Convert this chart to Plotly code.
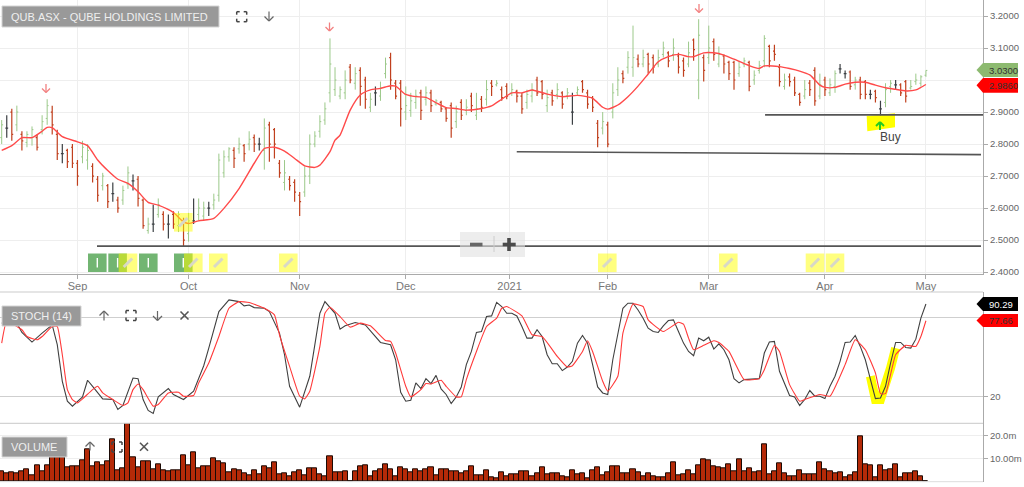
import plotly.graph_objects as go

title_text = "QUB.ASX - QUBE HOLDINGS LIMITED"
month_ticks = [15, 37, 59, 80, 100.55, 120, 140, 163, 183]
month_labels = ["Sep", "Oct", "Nov", "Dec", "2021", "Feb", "Mar", "Apr", "May"]
price_ticks = [2.4, 2.5, 2.6, 2.7, 2.8, 2.9, 3.0, 3.1, 3.2]
price_labels = ["2.4000", "2.5000", "2.6000", "2.7000", "2.8000", "2.9000", "", "3.1000", "3.2000"]

highs = [2.875,2.89,2.91,2.92,2.84,2.84,2.855,2.83,2.89,2.94,
2.92,2.845,2.80,2.785,2.80,2.75,2.81,2.80,2.74,2.70,
2.71,2.675,2.68,2.635,2.67,2.73,2.705,2.70,2.63,2.57,
2.61,2.63,2.59,2.58,2.59,2.59,2.57,2.585,2.63,2.63,
2.62,2.62,2.645,2.77,2.78,2.79,2.79,2.82,2.80,2.84,
2.83,2.82,2.88,2.87,2.85,2.75,2.75,2.70,2.69,2.65,
2.73,2.83,2.84,2.89,2.93,3.13,3.04,2.98,3.03,3.05,
3.04,3.04,3.01,2.96,2.98,2.995,3.07,3.085,3.00,3.00,
2.98,2.96,2.97,2.97,2.98,2.97,2.94,2.935,2.915,2.93,
2.92,2.94,2.94,2.96,2.96,2.95,3.00,3.00,3.00,2.98,
2.99,2.99,2.97,2.96,2.97,2.99,3.01,3.00,2.97,2.97,
2.99,2.965,2.975,2.96,2.98,3.00,2.97,2.95,2.875,2.90,
2.87,2.99,3.04,3.03,3.09,3.17,3.08,3.095,3.085,3.08,
3.095,3.12,3.09,3.13,3.085,3.07,3.12,3.13,3.19,3.08,
3.17,3.13,3.105,3.08,3.06,3.06,3.06,3.07,3.06,3.03,
3.06,3.14,3.11,3.11,3.05,3.02,3.02,3.01,2.96,3.00,
3.00,3.04,3.02,3.01,3.005,3.03,3.05,3.03,3.03,3.01,
3.01,3.00,2.97,2.97,2.935,2.99,3.00,3.00,2.99,3.00,
3.00,3.02,3.015,3.03]

lows = [2.80,2.82,2.81,2.84,2.78,2.79,2.795,2.78,2.83,2.86,
2.83,2.75,2.74,2.725,2.725,2.67,2.74,2.72,2.68,2.62,
2.655,2.60,2.62,2.585,2.61,2.66,2.655,2.605,2.535,2.52,
2.525,2.57,2.53,2.505,2.535,2.525,2.48,2.495,2.55,2.56,
2.56,2.575,2.595,2.62,2.695,2.745,2.725,2.77,2.745,2.78,
2.775,2.78,2.72,2.745,2.755,2.695,2.655,2.655,2.62,2.575,
2.635,2.675,2.79,2.82,2.86,2.93,2.95,2.94,2.94,2.99,
2.97,2.92,2.91,2.90,2.92,2.935,3.005,2.97,2.94,2.855,
2.875,2.885,2.91,2.875,2.92,2.90,2.92,2.90,2.87,2.82,
2.85,2.875,2.89,2.90,2.875,2.90,2.92,2.95,2.98,2.935,
2.94,2.95,2.93,2.895,2.91,2.93,2.95,2.94,2.90,2.92,
2.94,2.91,2.94,2.86,2.95,2.96,2.91,2.90,2.79,2.83,
2.79,2.88,2.95,2.99,3.02,3.01,3.04,3.04,3.02,3.02,
3.04,3.07,3.04,3.06,3.02,3.01,3.04,3.06,2.94,2.995,
3.05,3.06,3.04,3.02,3.00,2.97,3.01,3.04,2.965,2.985,
3.02,3.04,3.04,3.06,2.98,2.97,2.98,2.95,2.92,2.94,
2.95,2.92,2.94,2.95,2.95,2.96,3.02,3.005,2.97,2.97,
2.94,2.94,2.94,2.93,2.89,2.915,2.96,2.97,2.95,2.93,
2.97,2.985,2.98,3.01]

opens = [2.82,2.85,2.90,2.86,2.83,2.805,2.82,2.82,2.845,2.88,
2.90,2.83,2.77,2.78,2.79,2.74,2.76,2.75,2.73,2.69,
2.67,2.67,2.645,2.625,2.625,2.675,2.685,2.69,2.625,2.53,
2.55,2.58,2.58,2.55,2.58,2.545,2.56,2.52,2.56,2.58,
2.575,2.60,2.61,2.64,2.71,2.76,2.78,2.785,2.795,2.80,
2.82,2.80,2.78,2.86,2.845,2.74,2.68,2.69,2.68,2.64,
2.65,2.70,2.80,2.84,2.875,2.96,2.97,2.95,2.96,3.04,
2.99,3.03,3.00,2.915,2.96,2.95,3.02,3.07,2.99,2.99,
2.90,2.905,2.93,2.96,2.94,2.96,2.925,2.93,2.91,2.92,
2.87,2.93,2.905,2.95,2.89,2.94,2.94,2.99,2.985,2.97,
2.98,2.96,2.965,2.95,2.93,2.95,3.00,2.995,2.92,2.96,
2.955,2.96,2.95,2.90,2.96,2.995,2.96,2.945,2.865,2.85,
2.86,2.90,2.97,3.02,3.04,3.04,3.065,3.05,3.08,3.07,
3.05,3.08,3.085,3.08,3.075,3.06,3.05,3.125,3.00,3.07,
3.07,3.12,3.05,3.075,3.055,3.055,3.02,3.05,3.055,3.00,
3.03,3.06,3.105,3.09,3.04,2.98,3.01,3.00,2.955,2.95,
2.99,3.03,2.95,3.00,2.96,2.98,3.035,3.02,3.025,2.985,
3.00,2.995,2.955,2.965,2.91,2.93,2.98,2.985,2.985,2.995,
2.975,2.995,2.99,3.015]

closes = [2.86,2.85,2.83,2.90,2.81,2.83,2.845,2.79,2.87,2.92,
2.86,2.77,2.77,2.745,2.74,2.70,2.79,2.78,2.70,2.64,
2.70,2.62,2.645,2.60,2.655,2.71,2.685,2.63,2.545,2.55,
2.55,2.61,2.55,2.55,2.55,2.58,2.50,2.56,2.56,2.60,
2.60,2.60,2.625,2.75,2.76,2.785,2.755,2.80,2.77,2.815,
2.80,2.80,2.85,2.80,2.80,2.71,2.71,2.67,2.65,2.62,
2.70,2.80,2.825,2.87,2.91,3.05,3.00,2.97,3.00,3.00,
3.02,2.98,2.94,2.94,2.96,2.975,3.05,3.00,2.95,2.91,
2.92,2.935,2.95,2.905,2.96,2.92,2.935,2.91,2.88,2.85,
2.90,2.89,2.915,2.92,2.91,2.915,2.97,2.98,2.99,2.945,
2.95,2.97,2.95,2.91,2.955,2.97,2.96,2.955,2.945,2.935,
2.97,2.925,2.96,2.90,2.97,2.97,2.925,2.915,2.82,2.87,
2.80,2.96,3.00,3.005,3.07,3.07,3.05,3.07,3.05,3.04,
3.07,3.10,3.06,3.10,3.04,3.03,3.085,3.095,3.14,3.03,
3.10,3.08,3.08,3.05,3.02,3.00,3.04,3.06,2.98,3.015,
3.045,3.13,3.06,3.08,2.995,3.00,2.995,2.96,2.93,2.97,
2.97,2.935,2.985,2.97,2.985,3.02,3.035,3.02,2.98,3.00,
2.955,2.955,2.955,2.945,2.91,2.97,2.99,2.985,2.96,2.95,
2.98,3.00,3.01,3.03]

ma_idx = [0,2,4,6,8,9,10,12,15,17,19,21,23,25,27,29,31,34,36,37,39,42,44,47,50,52,54,56,58,60,62,63,65,66,
67,69,71,73,75,77,78,80,82,84,86,88,90,92,95,97,99,101,103,105,108,111,114,117,119,120,122,124,126,128,130,132,134,
136,137,139,141,143,145,148,150,151,154,156,158,160,162,163,165,167,169,171,173,175,177,179,181,182,183]
ma_vals = [2.78,2.795,2.82,2.82,2.84,2.852,2.851,2.823,2.807,2.795,2.75,2.717,2.69,2.677,2.651,2.618,2.609,2.586,2.557,2.552,2.56,2.568,2.599,2.661,2.74,2.786,2.79,2.778,2.755,2.732,2.727,2.734,2.776,2.812,
2.828,2.906,2.953,2.969,2.974,2.982,2.981,2.955,2.948,2.946,2.929,2.914,2.911,2.906,2.911,2.919,2.94,2.96,2.96,2.969,2.956,2.948,2.952,2.943,2.915,2.909,2.922,2.948,2.981,3.019,3.057,3.073,3.08,
3.073,3.073,3.085,3.085,3.078,3.065,3.045,3.036,3.044,3.042,3.036,3.028,3.016,2.984,2.977,2.977,2.987,2.993,2.993,2.984,2.976,2.971,2.966,2.969,2.977,2.986]

k_idx = [0,3,4,6,8,10,11,12,13,14,16,17,18,20,22,23,24,26,27,28,29,30,31,33,34,36,38,40,41,43,45,47,48,49,50,52,53,55,56,57,59,61,63,64,66,
67,68,70,72,75,77,78,79,80,81,82,83,84,85,86,87,88,89,90,91,92,93,94,95,96,97,98,99,100,101,102,103,104,105,106,107,108,109,110,111,112,113,114,115,116,117,118,119,120,121,122,123,124,125,126,127,128,129,130,131,132,133,134,
135,136,137,138,139,140,141,142,143,144,145,146,147,150,151,152,153,154,155,156,157,158,159,160,161,162,163,164,165,166,167,168,169,170,171,172,173,174,175,176,177,178,179,180,181,182,183]
k_vals = [75.8,75.8,68.8,61.5,68.3,74.5,59.5,31.8,16.7,13,20,32.6,28,18.5,18,10.5,13.5,34.3,33.8,18,9.7,7.4,20,26.3,21.8,18,24.3,43.6,56.9,84.6,93.4,92.1,88.9,89.6,87.6,87.1,84.6,68.3,51.9,28,12.2,35.6,83.3,92.1,83.3,
71.3,73.8,76.3,74.5,61.2,59.5,48.1,23.5,16.7,17.5,30.6,26.3,33.8,30.1,36.3,26,21.8,15,20,27.5,44.4,54.4,68.8,69.5,80.8,81.3,91.6,88.4,83.3,83.3,81.3,73.3,64.5,64.5,70.8,65.7,51.9,45.1,45.1,39.9,42.6,46.9,60.7,66.5,60.7,44.4,27.5,23,21.8,48.1,67,87.1,90.9,90.9,85.8,79.6,72,69.5,68.8,73.8,77.8,78.3,69.5,
60.7,54.4,51.2,64.5,62.5,65.2,56.2,60.2,55.7,48.1,33.8,30.6,33.1,33.8,53.2,61.5,62,39.4,30.6,21,20,13.5,18,24.8,20.5,20.5,18.7,28,35.6,46.9,61.2,61.5,66.5,58.2,48.1,33.1,18.7,19.2,28,45.6,61.2,61.2,57.4,56.9,63.7,79.6,90.29]

d_idx = [0,1,4,5,7,8,10,11,12,13,14,15,16,18,19,20,22,24,25,26,27,28,30,31,33,35,36,38,39,41,43,45,47,49,52,54,55,57,59,60,61,63,64,65,
67,69,71,73,76,77,78,80,81,83,84,85,87,88,90,91,92,94,96,98,99,100,103,105,107,110,112,113,115,116,117,119,120,122,123,125,127,128,131,134,
135,136,137,139,141,142,144,147,150,151,153,154,156,158,159,162,164,167,169,171,173,174,175,177,179,181,182,183]
d_vals = [60.7,77,70.8,65.7,63.2,65.7,73.3,73.3,51.9,25.5,18,15.5,18.5,25.5,28,23,18,13.5,15.5,25.5,29.8,25.5,13,14.2,23,23.5,20.5,21,30.6,45.6,65.7,87.1,92.1,91.4,87.1,82.1,67,43.1,20.5,18.5,24.3,58.2,83.3,87.9,
80.8,72.8,75.8,73.8,62.7,62,53.2,28,20,25.5,30.1,29.8,32.6,28,20,20,33.1,54.4,73.3,79.6,87.1,88.4,81.3,67,65.7,50.7,42.6,43.6,54.4,62.5,54.4,31.8,24.3,35.6,68.3,90.3,88.4,78.3,69.5,76.5,
75,64.5,55.7,59,62.5,61.2,54.4,33.1,33.8,40.6,59,54.4,29.3,16.7,18,21.8,20.5,44.4,63.2,55.7,38.1,22.5,22.5,51.9,59,58.2,65.7,77.66]

highlight_idx = [172, 173, 174, 175, 176, 177]
highlight_vals = [35.6, 18, 18, 28, 41.9, 56.9]

volume_m = [4.4,3.6,4.1,3.6,4.4,5.4,2.6,7.3,4.4,7.3,
10.7,10.7,10.7,6.1,6.9,6.9,9.3,14.2,6.9,8.5,
7.3,8.9,18.5,4.8,6,25.5,10.5,6.4,8.9,8.9,
5.3,7.6,4.8,4.4,4.8,4.8,11.4,7.3,12.8,6,
6.9,6.9,10.2,8.9,8,4.2,5.4,4.8,3.6,2.8,
4.8,3.2,6.9,5.7,8.5,3.2,3.6,2.3,4.1,4.8,
2.8,5.7,5.7,3.2,2.3,10.9,4.1,3.9,4.4,0,
4.4,6.9,7.3,2.3,4.4,5.4,7.7,5.5,2.3,6.1,
5.3,4.1,5.3,4.4,5.5,6.1,2.8,5.3,5.3,4.4,
4.4,3.6,4.4,6.9,2.8,2.8,4.8,1.9,1.5,4.1,
2.3,3.2,3.2,4.4,4.4,2.3,3.6,6.1,3.2,3.6,
3.6,2.3,1.9,4.8,3.2,3.6,1.5,4.8,6.1,2.8,
4.1,6.9,6.9,3.6,3.6,5.3,4.1,2.3,3.6,2.3,
1.9,1.9,3.6,8.5,2.8,3.2,4.8,3.2,7.3,9.8,
9.3,6.9,6.4,6,7.7,4.4,9.8,4.4,6,4.1,
4.4,16.2,3.2,4.4,8,3.6,2.3,2.3,4.8,3.2,
3.2,3.2,8.5,5.3,4.4,3.6,4.1,1.9,2.8,4.1,
20,7.7,7.3,1.9,7.3,4.8,5.3,7.7,1.9,3.6,
3.6,4.5,2.3,0.3]

# Horizontal levels drawn on the price panel: start index, end index, start price, end price
trend_lines = [(18.87, 193.9, 2.481, 2.481), (101.98, 193.9, 2.776, 2.767), (151.15, 194.3, 2.891, 2.891)]

W, H = 1024, 487
px = lambda x: x / W
py = lambda y: 1 - y / H
FONT = "Liberation Sans"
GRID = "#eeeeee"
AXIS = "#aaaaaa"

idx = list(range(len(highs)))
up = [i for i in idx if closes[i] > opens[i]]
down = [i for i in idx if closes[i] < opens[i]]
flat = [i for i in idx if closes[i] == opens[i]]

fig = go.Figure()


def ohlc(sel, color, width):
    fig.add_trace(go.Ohlc(
        x=sel, open=[opens[i] for i in sel], high=[highs[i] for i in sel],
        low=[lows[i] for i in sel], close=[closes[i] for i in sel],
        increasing=dict(line=dict(color=color, width=width)),
        decreasing=dict(line=dict(color=color, width=width)),
        tickwidth=0.28, hoverinfo="skip", showlegend=False, xaxis="x", yaxis="y"))


ohlc(up, "#9cc98a", 1)
ohlc(down, "#c0401e", 1.2)
ohlc(flat, "#3c4044", 1.2)
fig.add_trace(go.Scatter(x=ma_idx, y=ma_vals, mode="lines", line=dict(color="#ff4a4a", width=1.4, shape="spline", smoothing=0.6),
                         hoverinfo="skip", showlegend=False, xaxis="x", yaxis="y"))
fig.add_trace(go.Scatter(x=highlight_idx, y=highlight_vals, mode="lines", line=dict(color="#ffff00", width=9),
                         hoverinfo="skip", showlegend=False, xaxis="x2", yaxis="y2"))
fig.add_trace(go.Scatter(x=k_idx, y=k_vals, mode="lines", line=dict(color="#404040", width=1.1),
                         hoverinfo="skip", showlegend=False, xaxis="x2", yaxis="y2"))
fig.add_trace(go.Scatter(x=d_idx, y=d_vals, mode="lines", line=dict(color="#ff3a3a", width=1.1, shape="spline", smoothing=0.4),
                         hoverinfo="skip", showlegend=False, xaxis="x2", yaxis="y2"))
fig.add_trace(go.Bar(x=idx, y=volume_m, width=1, marker=dict(color="#b52a08", line=dict(color="#1a0a05", width=1)),
                     hoverinfo="skip", showlegend=False, xaxis="x3", yaxis="y3"))

shapes = []
annots = []


def seg(x0, y0, x1, y1, color, width=1, layer="above"):
    shapes.append(dict(type="line", xref="paper", yref="paper", x0=px(x0), y0=py(y0), x1=px(x1), y1=py(y1),
                       line=dict(color=color, width=width), layer=layer))


def box(x0, y0, x1, y1, fill, line=None, layer="above"):
    shapes.append(dict(type="rect", xref="paper", yref="paper", x0=px(x0), y0=py(y0), x1=px(x1), y1=py(y1),
                       fillcolor=fill, line=dict(color=line or fill, width=1 if line else 0), layer=layer))


def poly(pts, fill, layer="above"):
    path = "M " + " L ".join(f"{px(a):.5f},{py(b):.5f}" for a, b in pts) + " Z"
    shapes.append(dict(type="path", xref="paper", yref="paper", path=path, fillcolor=fill, line=dict(width=0), layer=layer))


def text(x, y, s, color, size=11, xanchor="left", family=FONT):
    annots.append(dict(xref="paper", yref="paper", x=px(x), y=py(y), text=s, showarrow=False, xanchor=xanchor, yanchor="middle",
                       font=dict(family=family, size=size, color=color), borderpad=0, borderwidth=0))


def arrow(cx, y0, y1, color, width=1.3, half=4):
    # y0 = tail, y1 = head
    d = half if y1 > y0 else -half
    seg(cx, y0, cx, y1, color, width)
    seg(cx - half, y1 - d, cx, y1, color, width)
    seg(cx + half, y1 - d, cx, y1, color, width)


def cross(cx, cy, r, color):
    seg(cx - r, cy - r, cx + r, cy + r, color, 1.6)
    seg(cx - r, cy + r, cx + r, cy - r, color, 1.6)


def corners(cx, cy, r, color):
    t = 3
    for sx, sy in [(-1, -1), (1, -1), (-1, 1), (1, 1)]:
        seg(cx + sx * r, cy + sy * r, cx + sx * (r - t), cy + sy * r, color, 1.5)
        seg(cx + sx * r, cy + sy * r, cx + sx * r, cy + sy * (r - t), color, 1.5)


# Yellow "Buy" patch under the trend line
poly([(866.7, 116), (895, 113.3), (895, 127.3), (867.3, 131.3)], "#ffff00", layer="below")

for x0, x1, y0, y1 in trend_lines:
    shapes.append(dict(type="line", xref="x", yref="y", x0=x0, x1=x1, y0=y0, y1=y1, line=dict(color="#555555", width=1.6), layer="above"))

# Panel separators
seg(0, 292, 983, 292, "#dddddd", 1.6)
seg(0, 423.3, 983, 423.3, "#c8c8c8", 1)
seg(0, 481.7, 983, 481.7, "#dddddd", 1)

# Green "I" flags and yellow note tags
for x0 in [88, 108.3, 139, 174]:
    box(x0, 253.5, x0 + 18.6, 272, "#72b572")
    seg(x0 + 9.3, 258, x0 + 9.3, 267.5, "#ffffff", 1.4)
for x0 in [118.7, 184, 209, 279, 598, 719, 805.7, 825.7, 174]:
    y0 = 213 if x0 == 174 else 253.5
    shapes.append(dict(type="rect", xref="paper", yref="paper", x0=px(x0), x1=px(x0 + 18.6), y0=py(y0), y1=py(y0 + 18.6),
                       fillcolor="rgba(255,255,0,0.5)", line=dict(width=0), layer="above"))
    seg(x0 + 5, y0 + 13.5, x0 + 13.5, y0 + 5, "#d8d8c8", 3)

# Signal arrows
arrow(46, 84, 92.5, "#f28080")
arrow(329.5, 22.5, 31, "#f28080")
arrow(699, 4, 12.5, "#f28080")
arrow(880, 130, 122, "#22cc22", width=2)
text(879.5, 137, "Buy", "#444444", 12)

# Zoom control
shapes.append(dict(type="rect", xref="paper", yref="paper", x0=px(460), x1=px(525), y0=py(232), y1=py(257),
                   fillcolor="rgba(225,225,225,0.6)", line=dict(width=0), layer="above"))
seg(470, 244.5, 482.5, 244.5, "#666666", 3.6)
seg(494, 236, 494, 252, "#cccccc", 1)
seg(502.7, 244.5, 515.7, 244.5, "#4a4a4a", 3.6)
seg(509, 238, 509, 251, "#4a4a4a", 3.6)

# Panel captions
box(2, 6, 219, 27, "#999999", "#d4d4d4")
text(11, 16.7, title_text, "#efefef", 11)
box(2, 306, 81, 326, "#999999", "#d4d4d4")
text(11, 316, "STOCH (14)", "#efefef", 11)
box(2, 437, 67, 457, "#999999", "#d4d4d4")
text(11, 447, "VOLUME", "#efefef", 11)

ICON = "#666666"
corners(241.7, 16.7, 5, "#444444")
arrow(269, 11.5, 21, ICON, 1.2, 4.5)
arrow(104, 320.5, 311, ICON, 1.2, 4.5)
corners(131, 315.5, 5, "#444444")
arrow(157.5, 311, 320.5, ICON, 1.2, 4.5)
cross(184.5, 315.5, 4, "#555555")
arrow(90, 450.5, 442, ICON, 1.2, 4.5)
corners(117, 447, 5, "#444444")
cross(144, 446.7, 4, "#555555")


# Price tags
def tag(y0, y1, fill, label, color):
    mid = (y0 + y1) / 2
    poly([(976.5, mid), (983, y0), (1018, y0), (1018, y1), (983, y1)], fill)
    text(989, mid, label, color, 9.5)


tag(63, 77, "#8dba70", f"{closes[-1]:.4f}", "#333333")
tag(78, 92.7, "#ff0000", f"{ma_vals[-1]:.4f}", "#333333")
tag(297, 311, "#000000", f"{k_vals[-1]:.2f}", "#ffffff")
tag(314, 327, "#ff0000", f"{d_vals[-1]:.2f}", "#333333")

x_range = [-0.337, 194.3]
tickfont = dict(family=FONT, size=9.5, color="#666666")
domain_x = [0, 983 / W]

fig.update_layout(
    width=W, height=H, margin=dict(l=0, r=0, t=0, b=0, autoexpand=False), paper_bgcolor="white", plot_bgcolor="white",
    showlegend=False, bargap=0, shapes=shapes, annotations=annots, dragmode=False,
    xaxis=dict(domain=domain_x, range=x_range, anchor="y", automargin=False, tickmode="array", tickvals=month_ticks, ticktext=month_labels,
               showgrid=True, gridcolor=GRID, gridwidth=1, ticks="outside", ticklen=4, tickcolor=AXIS, showline=True, linecolor=AXIS, linewidth=1,
               ticklabelstandoff=-2,
               tickfont=dict(family=FONT, size=11, color="#777777"), rangeslider=dict(visible=False), zeroline=False),
    yaxis=dict(domain=[py(274), 1], range=[2.394, 3.25], side="right", anchor="x", automargin=False, tickmode="array", tickvals=price_ticks, ticktext=price_labels,
               showgrid=True, gridcolor=GRID, ticks="outside", ticklen=4, tickcolor=AXIS, showline=True, linecolor=AXIS, tickfont=tickfont, zeroline=False),
    xaxis2=dict(domain=domain_x, matches="x", anchor="y2", automargin=False, showticklabels=False, ticks="", tickmode="array", tickvals=month_ticks,
                showgrid=False, zeroline=False, range=x_range),
    yaxis2=dict(domain=[py(423.3), py(292)], range=[0, 99.4], side="right", anchor="x2", automargin=False, tickmode="array", tickvals=[20, 80], ticktext=["20", ""],
                showgrid=True, gridcolor="#cfcfcf", ticks="outside", ticklen=4, tickcolor=AXIS, showline=True, linecolor=AXIS, tickfont=tickfont, zeroline=False),
    xaxis3=dict(domain=domain_x, matches="x", anchor="y3", automargin=False, showticklabels=False, ticks="", tickmode="array", tickvals=month_ticks,
                showgrid=False, zeroline=False, range=x_range),
    yaxis3=dict(domain=[py(481.7), py(423.3)], range=[0, 25.5], side="right", anchor="x3", automargin=False, tickmode="array", tickvals=[10, 20], ticktext=["10.00m", "20.0m"],
                showgrid=True, gridcolor=GRID, ticks="outside", ticklen=4, tickcolor=AXIS, showline=True, linecolor=AXIS, tickfont=tickfont, zeroline=False),
)

fig.write_html("out.html", config={"displayModeBar": False},
               post_script="document.body.style.margin='0';document.body.style.overflow='hidden';")
